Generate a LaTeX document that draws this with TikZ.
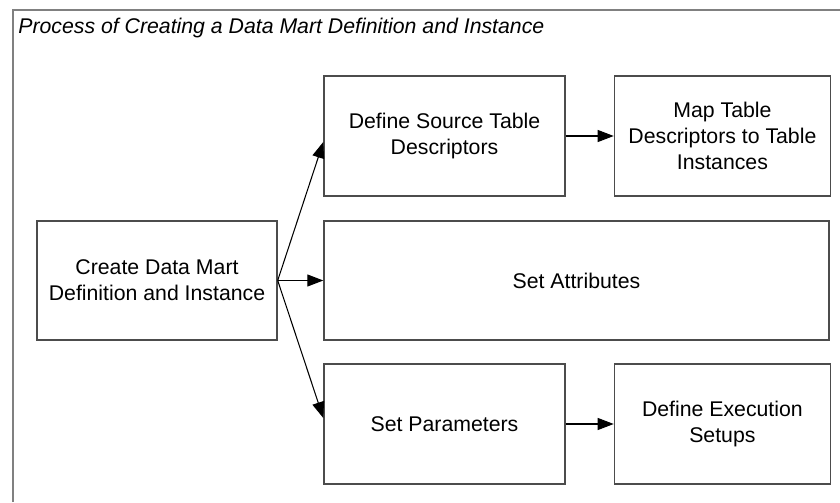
\documentclass[tikz,border=0pt]{standalone}
\usepackage{fontspec}
\setmainfont{Liberation Sans}
\usepackage{xcolor}
\usepackage{tikz}
\usetikzlibrary{arrows.meta, positioning}

\begin{document}
\begin{tikzpicture}[
  box/.style={draw=black!70, line width=0.8pt, align=center, inner sep=0pt,
    font=\fontsize{12.1}{14.6}\selectfont},
  arr/.style={-{Triangle[length=0.32cm, width=0.24cm]}, line width=0.6pt}
]
  \useasboundingbox (0,0) rectangle (16.8,10.04);

  % Frame and title
  \draw[black!50, line width=1.1pt] (0.26,0) -- (0.26,9.84) -- (16.8,9.84);
  \node[anchor=base west, inner sep=0pt, font=\fontsize{12.1}{14.2}\selectfont\itshape]
    (title) at (0.36,9.36) {Process of Creating a Data Mart Definition and Instance};

  % Steps
  \node[box, minimum width=4.8cm, minimum height=2.38cm] (create) at (3.14,4.43)
    {Create Data Mart\\Definition and Instance};
  \node[box, minimum width=4.82cm, minimum height=2.4cm] (srcdesc) at (8.89,7.32)
    {Define Source Table\\Descriptors};
  \node[box, minimum width=4.32cm, minimum height=2.4cm, right=0.96cm of srcdesc] (maptbl)
    {Map Table\\Descriptors to Table\\Instances};
  \node[box, minimum width=10.1cm, minimum height=2.38cm] (attrs) at (11.53,4.43)
    {Set Attributes};
  \node[box, minimum width=4.82cm, minimum height=2.4cm] (params) at (8.89,1.56)
    {Set Parameters};
  \node[box, minimum width=4.32cm, minimum height=2.4cm, right=0.96cm of params] (execset)
    {Define Execution\\Setups};

  % Arrows
  \foreach \t/\s in {srcdesc/-0.12, attrs/0, params/0.12}{
    \draw[arr] (create.east) -- ([yshift=\s cm]\t.west);
  }
  \draw[arr] (srcdesc) -- (maptbl);
  \draw[arr] (params) -- (execset);

\end{tikzpicture}
\end{document}
